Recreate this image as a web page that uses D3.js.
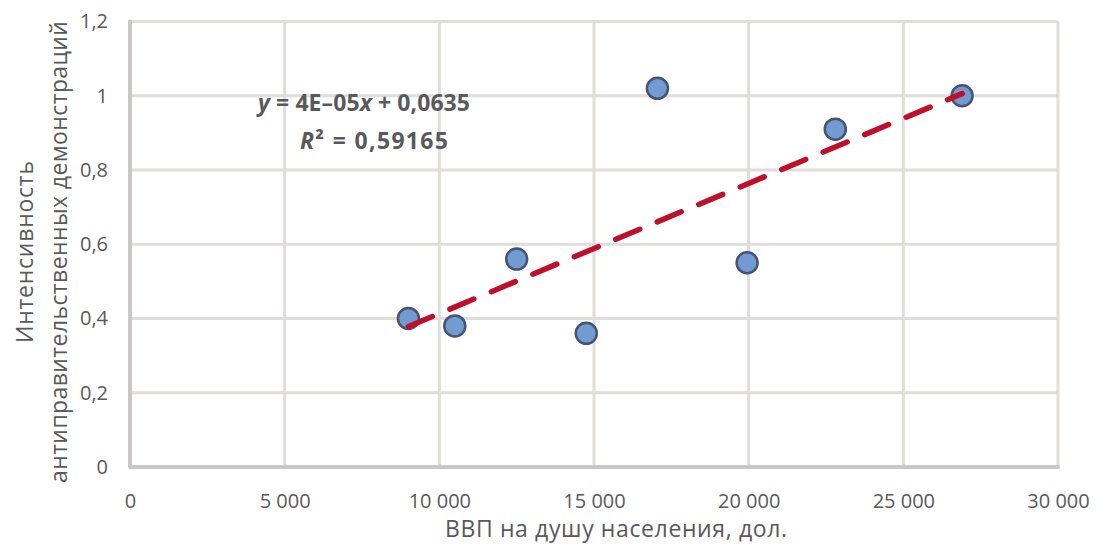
<!DOCTYPE html>
<html><head><meta charset="utf-8">
<script src="https://cdn.jsdelivr.net/npm/d3@7"></script>
<style>
html,body{margin:0;padding:0;background:#fff;}
svg{display:block;}
text{font-family:"Open Sans","DejaVu Sans",sans-serif;fill:#595959;}
</style></head>
<body>
<script>
const gdp = [9000, 10500, 12500, 14750, 17050, 19950, 22800, 26900];
const intensity = [0.40, 0.38, 0.56, 0.36, 1.02, 0.55, 0.91, 1.00];
const xTicks = [0, 5000, 10000, 15000, 20000, 25000, 30000];
const yTicks = [0, 0.2, 0.4, 0.6, 0.8, 1.0, 1.2];
const xTitle = "ВВП на душу населения, дол.";
const yTitleLines = ["Интенсивность", "антиправительственных демонстраций"];

const W = 1097, H = 554;
const m = {left:130, right:1058, top:21.5, bottom:467};
const svg = d3.select("body").append("svg").attr("width", W).attr("height", H);

const x = d3.scaleLinear().domain([0, 30000]).range([m.left, m.right]);
const y = d3.scaleLinear().domain([0, 1.2]).range([m.bottom, m.top]);

const fmtX = v => v === 0 ? "0" : d3.format(",")(v).replace(/,/g, " ");
const fmtY = v => v === 0 ? "0" : (Math.round(v*10)/10).toString().replace(".", ",");

// grid
const grid = svg.append("g");
grid.selectAll("line.v").data(xTicks.slice(1)).join("line")
  .attr("x1", d => x(d)).attr("x2", d => x(d)).attr("y1", m.top).attr("y2", m.bottom)
  .attr("stroke", "#e0dedb").attr("stroke-width", 3);
grid.selectAll("line.h").data(yTicks.slice(1)).join("line")
  .attr("x1", m.left).attr("x2", m.right).attr("y1", d => y(d)).attr("y2", d => y(d))
  .attr("stroke", "#e0dedb").attr("stroke-width", 3);
svg.append("path")
  .attr("d", `M${m.left},${m.top}V${m.bottom}H${m.right}`)
  .attr("fill", "none").attr("stroke", "#cac8c6").attr("stroke-width", 4)
  .attr("stroke-linejoin", "round").attr("stroke-linecap", "round");

const xAxis = svg.append("g").attr("transform", `translate(0,${m.bottom})`)
  .call(d3.axisBottom(x).tickValues(xTicks).tickFormat(fmtX).tickSize(0).tickPadding(27));
xAxis.select(".domain").remove();
xAxis.selectAll("text").attr("font-size", 20).attr("fill", "#595959")
  .style("font-family", '"Open Sans", sans-serif');

const yAxis = svg.append("g").attr("transform", `translate(108,0)`)
  .call(d3.axisLeft(y).tickValues(yTicks).tickFormat(fmtY).tickSize(0).tickPadding(0));
yAxis.select(".domain").remove();
yAxis.selectAll("text").attr("font-size", 20).attr("fill", "#595959")
  .style("font-family", '"Open Sans", sans-serif');

// axis titles
svg.append("text").attr("x", 445).attr("y", 537)
  .attr("font-size", 23).attr("textLength", 342).attr("lengthAdjust", "spacing").text(xTitle);
const yt = svg.append("g").attr("transform", `translate(0,252) rotate(-90)`);
yt.append("text").attr("x", -91).attr("y", 33).attr("font-size", 23)
  .attr("textLength", 182).attr("lengthAdjust", "spacing").text(yTitleLines[0]);
yt.append("text").attr("x", -231).attr("y", 67).attr("font-size", 23)
  .attr("textLength", 462).attr("lengthAdjust", "spacing").text(yTitleLines[1]);

// points
svg.append("g").selectAll("circle").data(gdp.map((g, i) => [g, intensity[i]])).join("circle")
  .attr("cx", d => x(d[0])).attr("cy", d => y(d[1])).attr("r", 10.5)
  .attr("fill", "#729bd2").attr("stroke", "#465470").attr("stroke-width", 2.5);

// linear trendline (least squares over the data)
const n = gdp.length;
const mx = d3.mean(gdp), my = d3.mean(intensity);
let sxy = 0, sxx = 0;
for (let i = 0; i < n; i++) { sxy += (gdp[i]-mx)*(intensity[i]-my); sxx += (gdp[i]-mx)**2; }
const slope = sxy/sxx, icpt = my - slope*mx;
const [x0, x1] = d3.extent(gdp);
svg.append("line")
  .attr("x1", x(x0)).attr("y1", y(icpt + slope*x0))
  .attr("x2", x(x1)).attr("y2", y(icpt + slope*x1))
  .attr("stroke", "#be0f2b").attr("stroke-width", 5.5)
  .attr("stroke-dasharray", "26 19").attr("stroke-linecap", "round");

// equation
const eqFont = '"Liberation Sans Narrow","Open Sans",sans-serif';
const e1 = svg.append("text").attr("x", 258).attr("y", 111).attr("font-weight", "bold")
  .style("font-family", eqFont).attr("font-size", 23)
  .attr("textLength", 212).attr("lengthAdjust", "spacing");
e1.append("tspan").attr("font-style", "italic").text("y");
e1.append("tspan").text(" = 4E–05");
e1.append("tspan").attr("font-style", "italic").text("x");
e1.append("tspan").text(" + 0,0635");
const e2 = svg.append("text").attr("x", 300).attr("y", 149).attr("font-weight", "bold")
  .style("font-family", eqFont).attr("font-size", 23)
  .attr("textLength", 148).attr("lengthAdjust", "spacing");
e2.append("tspan").attr("font-style", "italic").text("R");
e2.append("tspan").text("² = 0,59165");
</script>
</body></html>
